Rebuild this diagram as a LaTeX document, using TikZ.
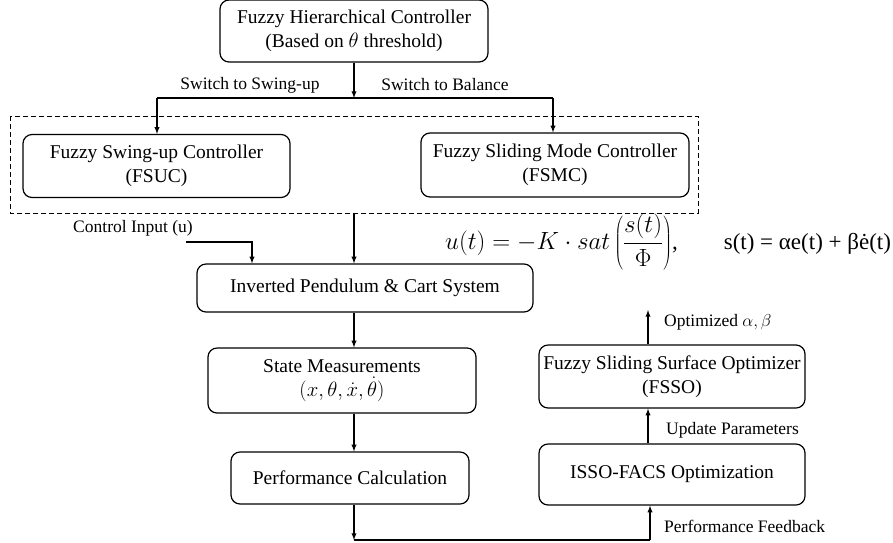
\documentclass[tikz,border=0pt]{standalone}
\usepackage{fontspec}
\setmainfont{Liberation Serif}
\usepackage{tikz}
\usetikzlibrary{arrows}

\begin{document}
\begin{tikzpicture}[x=1pt,y=-1pt,
		box/.style={rectangle,draw,line width=1.2pt,rounded corners=9pt,align=center,inner sep=0pt,font=\fontsize{19.5}{24}\selectfont},
		lbl/.style={inner sep=0pt,font=\fontsize{17.5}{20}\selectfont},
		link/.style={line width=1.3pt,-latex}]
		\useasboundingbox (0,0) rectangle (893,542);
%		\draw[help lines,step=20pt] (0,0) grid (893,542);
		\path (354,31) node(hier) [box,minimum width=268pt,minimum height=62pt] {Fuzzy Hierarchical Controller\\(Based on $\theta$ threshold)};
		\path (156.5,166) node(fsuc) [box,minimum width=267pt,minimum height=63pt] {Fuzzy Swing-up Controller\\(FSUC)};
		\path (555,165) node(fsmc) [box,minimum width=268pt,minimum height=64pt] {Fuzzy Sliding Mode Controller\\(FSMC)};
		\path (365,288) node(ips) [box,minimum width=336pt,minimum height=48pt] {Inverted Pendulum \& Cart System};
		\path (342,380.5) node(state) [box,minimum width=268pt,minimum height=65pt] {State Measurements\\{\fontsize{21.5}{24}\selectfont$\big(x,\theta,\dot{x},\dot{\theta}\big)$}};
		\path (350,478) node(perf) [box,minimum width=238pt,minimum height=52pt] {Performance Calculation};
		\path (672,376.5) node(fsso) [box,minimum width=266pt,minimum height=63pt] {Fuzzy Sliding Surface Optimizer\\(FSSO)};
		\path (672,474.5) node(isso) [box,minimum width=266pt,minimum height=61pt] {ISSO-FACS Optimization};

		\path (10,116) coordinate (grp_nw);
		\path (698,213) coordinate (grp_se);
		\path (354,213) coordinate (grp_s);
		\path (354,98) coordinate (split);
		\path (157,98) coordinate (split_l);
		\path (553,98) coordinate (split_r);
		\path (186,242) coordinate (u_in);
		\path (252,242) coordinate (u_bend);
		\path (648,310) coordinate (opt_tip);
		\path (354,540) coordinate (fb_l);
		\path (650,540) coordinate (fb_r);

		\path (250,85) node(to_swing) [lbl] {Switch to Swing-up};
		\path (445,85) node(to_bal) [lbl] {Switch to Balance};
		\path (133,228) node(u_lbl) [lbl] {Control Input (u)};
		\path (664,322) node(opt_lbl) [lbl,anchor=west] {Optimized $\alpha,\beta$};
		\path (666,430) node(upd_lbl) [lbl,anchor=west] {Update Parameters};
		\path (664,526) node(fb_lbl) [lbl,anchor=west] {Performance Feedback};
		\path (445,242) node(eqn) [anchor=west,inner sep=0pt,font=\fontsize{23}{27}\selectfont] {$u(t)=-K\cdot sat\left(\displaystyle\frac{s(t)}{\Phi}\right)$,\qquad {\rmfamily s(t) = αe(t) + βė(t)}};

		% switching level
		\draw[dash pattern=on 5pt off 3pt,line width=1pt] (grp_nw) rectangle (grp_se);
		\draw[link] (hier) -- (split);
		\draw[line width=1.3pt] (split_l) -- (split_r);
		\draw[link] (split_l) -- (split_l |- fsuc.north);
		\draw[link] (split_r) -- (split_r |- fsmc.north);
		\draw[link] (grp_s) -- (grp_s |- ips.north);
		\draw[link] (u_in) -- (u_bend) -- (u_bend |- ips.north);

		% plant and feedback loop
		\draw[link] (grp_s |- ips.south) -- (grp_s |- state.north);
		\draw[link] (grp_s |- state.south) -- (grp_s |- perf.north);
		\draw[link] (grp_s |- perf.south) -- (fb_l);
		\draw[line width=1.3pt] (fb_l) -- (fb_r);
		\draw[link] (fb_r) -- (fb_r |- isso.south);
		\draw[link] (opt_tip |- isso.north) -- (opt_tip |- fsso.south);
		\draw[link] (opt_tip |- fsso.north) -- (opt_tip);
	\end{tikzpicture}
\end{document}
